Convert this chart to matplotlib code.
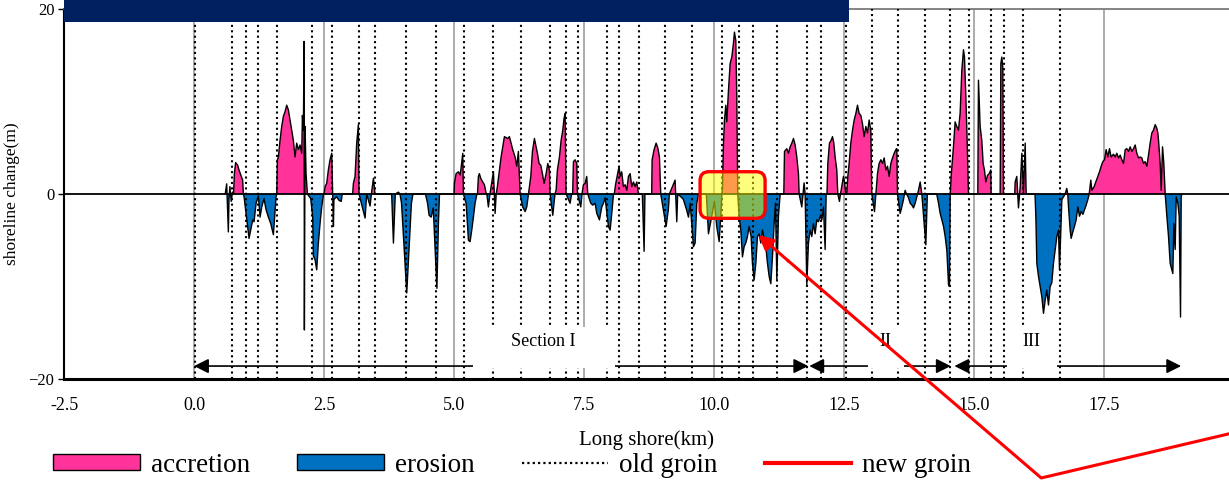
import numpy as np
import matplotlib.pyplot as plt
from matplotlib.patches import Rectangle, FancyBboxPatch, Patch
from matplotlib.lines import Line2D

plt.rcParams['font.family'] = ['Liberation Serif', 'DejaVu Serif']

# ----------------------------------
# data: shoreline change (km, m)
# ----------------------------------
profile_west = [
    (0.60, 0.0), (0.628, 1.1), (0.66, -4.1), (0.673, -0.5), (0.69, 0.8), (0.715, -0.8), (0.74, 0.2), (0.76, 0.0),
    (0.776, 2.2), (0.80, 3.4), (0.84, 3.1), (0.865, 2.6), (0.90, 2.05), (0.935, 1.5), (0.949, 0.0),
    (0.962, -0.3), (1.058, -4.8), (1.09, -3.9), (1.128, -2.8), (1.154, -3.0), (1.193, -1.0), (1.237, -0.2),
    (1.27, -2.5), (1.302, -1.4), (1.346, -0.5), (1.385, -1.7), (1.43, -2.5), (1.475, -3.2), (1.526, -4.4),
    (1.577, -0.3), (1.59, 0.0),
    (1.603, 3.7), (1.622, 4.0), (1.654, 5.8), (1.686, 7.3), (1.718, 8.4), (1.75, 8.9), (1.782, 9.6), (1.814, 9.1),
    (1.846, 8.0), (1.878, 6.9), (1.91, 5.8), (1.942, 4.0), (1.974, 5.5), (2.007, 4.8), (2.039, 5.3), (2.071, 4.4),
    (2.084, 8.5), (2.103, 6.9), (2.116, 16.5), (2.122, -14.7), (2.135, 7.3), (2.154, 2.2), (2.18, 0.0),
    (2.244, -0.5), (2.282, -2.5), (2.295, -6.7), (2.327, -7.1), (2.359, -8.2), (2.391, -5.3), (2.423, -3.2),
    (2.455, -1.4), (2.487, -0.1), (2.50, 0.0),
    (2.52, 0.8), (2.551, 1.15), (2.583, 2.6), (2.615, 3.7), (2.648, 4.4), (2.667, 0.0),
    (2.68, -3.5), (2.69, -0.6), (2.74, -0.3), (2.79, -0.7), (2.83, -0.8), (2.85, 0.0),
    (3.05, 0.0), (3.064, 1.15), (3.096, 1.9), (3.128, 5.5), (3.16, 7.5), (3.173, 0.0),
    (3.289, -2.6), (3.32, 0.0), (3.385, -1.3), (3.41, 0.0), (3.45, 1.7), (3.48, 0.0),
    (3.80, 0.0), (3.834, -5.3), (3.87, 0.0), (3.93, 0.2), (3.96, 0.0), (3.99, -1.0), (4.09, -10.7), (4.12, -7.5),
    (4.18, -1.0), (4.21, 0.0),
    (4.45, 0.0), (4.49, -1.0), (4.52, -2.3), (4.56, -2.5), (4.60, -1.5), (4.67, -10.2), (4.70, -3.0), (4.72, 0.0),
    (5.0, 0.0), (5.007, 1.15), (5.039, 2.2), (5.084, 2.4), (5.116, 2.05), (5.135, 2.8), (5.167, 4.4), (5.18, 0.0),
    (5.231, -1.0), (5.257, -3.2), (5.276, -5.0), (5.308, -5.15), (5.34, -3.9), (5.372, -2.5), (5.404, -1.0),
    (5.436, -0.1), (5.45, 0.0),
    (5.468, 1.9), (5.487, 2.2), (5.513, 1.7), (5.551, 1.3), (5.584, 1.0), (5.616, 0.1), (5.63, 0.0),
    (5.66, -1.4), (5.69, 0.0), (5.757, 2.4), (5.775, 0.0), (5.789, -2.1), (5.81, 0.0),
    (5.833, 0.8), (5.872, 2.6), (5.904, 4.0), (5.936, 5.1), (5.968, 6.2), (6.0, 6.1), (6.032, 6.0), (6.064, 6.2),
    (6.096, 5.5), (6.128, 4.8), (6.173, 4.0), (6.205, 3.0), (6.237, 4.6), (6.27, 0.0),
]

profile_middle = [
    (6.32, -1.4), (6.366, -1.9), (6.398, -1.4), (6.43, 0.0),
    (6.449, 0.8), (6.475, 1.9), (6.507, 4.6), (6.545, 6.0), (6.571, 5.3), (6.603, 4.4), (6.635, 3.3), (6.667, 3.1),
    (6.699, 2.2), (6.731, 1.15), (6.77, 2.2), (6.802, 3.3), (6.834, 2.6), (6.846, 0.0),
    (6.898, -2.3), (6.94, 0.0),
    (6.962, 0.4), (6.987, 2.6), (7.026, 4.0), (7.058, 5.8), (7.09, 6.9), (7.115, 8.2), (7.135, 8.7), (7.154, 0.0),
    (7.231, -1.0), (7.26, 0.0), (7.28, 0.0), (7.295, 3.5), (7.327, 3.7), (7.359, 3.3), (7.372, 0.0),
    (7.436, -1.4), (7.46, 0.0), (7.487, 1.0), (7.52, 1.15), (7.551, 1.9), (7.571, 0.0),
    (7.628, -1.0), (7.667, -1.2), (7.712, -1.0), (7.744, -2.1), (7.795, -2.8), (7.84, -1.4), (7.872, -1.0),
    (7.904, -0.4), (7.936, -1.9), (7.968, -3.5), (8.0, -3.9), (8.032, -2.1), (8.064, -0.1), (8.08, 0.0),
    (8.109, 1.15), (8.141, 2.05), (8.173, 3.0), (8.192, 1.9), (8.224, 2.4), (8.256, 0.8), (8.289, 1.0),
    (8.321, 0.4), (8.353, 1.9), (8.385, 2.2), (8.417, 0.8), (8.449, 1.3), (8.481, 0.8), (8.513, 1.3), (8.545, 0.0),
    (8.62, 0.0), (8.654, -6.2), (8.67, 0.0),
    (8.80, 0.0), (8.808, 3.7), (8.846, 4.8), (8.885, 5.5), (8.917, 5.0), (8.949, 4.0), (8.974, 0.0),
    (9.077, -3.5), (9.12, -1.7), (9.14, 0.0), (9.25, 1.5), (9.282, -3.0), (9.30, 0.0),
    (9.38, -0.4), (9.41, -0.6), (9.47, -1.7), (9.507, -2.5), (9.54, -1.0), (9.603, -5.7), (9.635, -5.3),
    (9.667, -1.0), (9.70, 0.0),
    (9.85, 0.0), (9.891, -4.3), (9.955, -2.4), (10.006, -0.8), (10.05, -3.5), (10.097, -5.15), (10.135, -1.7),
    (10.15, 0.0),
    (10.161, 0.8), (10.18, 5.5), (10.199, 8.0), (10.225, 9.6), (10.244, 7.8), (10.276, 11.2), (10.308, 14.1),
    (10.34, 14.8), (10.372, 16.3), (10.391, 17.5), (10.417, 16.6), (10.436, 10.5), (10.455, 0.0),
    (10.481, -2.4), (10.513, -3.9), (10.545, -6.8), (10.577, -5.7), (10.609, -5.3), (10.641, -4.6), (10.673, -3.5),
    (10.712, -4.6), (10.737, -7.5), (10.769, -9.3), (10.802, -7.5), (10.834, -4.6), (10.866, -4.3), (10.898, -5.3),
    (10.93, -3.9), (10.962, -4.8), (10.994, -5.7), (11.026, -7.5), (11.058, -8.9), (11.09, -9.7), (11.122, -6.8),
    (11.154, -3.2), (11.18, -1.0), (11.206, -9.3), (11.237, -2.4), (11.27, 0.0),
    (11.34, 0.0), (11.353, 4.6), (11.398, 4.9), (11.43, 4.4), (11.462, 5.1), (11.494, 5.5), (11.526, 6.0),
    (11.558, 5.3), (11.59, 4.0), (11.622, 2.2), (11.635, 0.0),
    (11.686, -1.4), (11.71, 0.0), (11.73, 1.2), (11.75, 0.0),
    (11.782, -9.8), (11.814, -5.3), (11.846, -3.9), (11.878, -4.6), (11.91, -3.2), (11.942, -4.3), (11.975, -2.8),
    (12.007, -3.0), (12.039, -2.4), (12.071, -2.8), (12.103, -1.4), (12.135, -6.0), (12.154, -0.1), (12.17, 0.0),
]

profile_east = [
    (12.186, 3.3), (12.218, 5.5), (12.25, 5.8), (12.276, 6.2), (12.302, 5.5), (12.327, 4.0), (12.359, 2.6),
    (12.378, 0.0), (12.41, -0.8), (12.43, 0.0), (12.487, 1.9), (12.51, 1.2), (12.53, 0.0),
    (12.55, 0.0), (12.571, 1.9), (12.596, 3.3), (12.628, 5.5), (12.661, 6.9), (12.693, 8.0), (12.725, 8.7),
    (12.757, 9.6), (12.789, 8.7), (12.821, 8.5), (12.853, 7.6), (12.885, 6.2), (12.917, 7.3), (12.949, 6.6),
    (12.981, 8.0), (13.013, 6.9), (13.032, 0.0),
    (13.084, -1.9), (13.11, 0.0),
    (13.141, 2.2), (13.173, 3.3), (13.206, 3.7), (13.238, 3.3), (13.27, 3.9), (13.302, 2.6), (13.334, 3.0),
    (13.366, 1.9), (13.398, 3.3), (13.43, 3.9), (13.462, 4.4), (13.494, 4.8), (13.513, 4.9), (13.526, 0.0),
    (13.577, -2.1), (13.609, -1.4), (13.641, -0.6), (13.673, 0.4), (13.70, 0.0), (13.737, -0.4), (13.77, -1.0),
    (13.802, -1.2), (13.834, -1.5), (13.866, -1.0), (13.898, -0.3), (13.93, 0.4), (13.962, 1.3), (13.994, 0.0),
    (14.071, -5.5), (14.10, 0.0),
    (14.28, 0.0), (14.315, -1.0), (14.347, -2.1), (14.379, -2.8), (14.411, -3.5), (14.443, -4.6), (14.475, -6.1),
    (14.507, -9.8), (14.525, -10.0), (14.54, 0.0),
    (14.557, 1.9), (14.602, 5.1), (14.634, 7.8), (14.666, 7.3), (14.698, 6.9), (14.73, 8.7), (14.763, 13.4),
    (14.795, 15.6), (14.814, 14.8), (14.84, 10.6), (14.865, 5.8), (14.891, 0.0),
    (15.07, 0.0), (15.083, 12.3), (15.115, 7.3), (15.147, 5.8), (15.173, 3.3), (15.198, 2.6), (15.224, 1.3),
    (15.256, 2.0), (15.288, 2.2), (15.32, 2.6), (15.327, 0.0),
    (15.50, 0.0), (15.513, 14.1), (15.532, 14.8), (15.551, 13.7), (15.564, 0.0),
    (15.78, 0.0), (15.788, 1.3), (15.82, 1.9), (15.852, -1.5), (15.885, 0.8), (15.917, 4.4), (15.949, 0.1),
    (15.981, 5.5), (16.0, 0.0),
    (16.17, 0.0), (16.186, -2.4), (16.205, -7.5), (16.237, -8.9), (16.269, -10.0), (16.301, -11.1), (16.333, -12.9),
    (16.365, -11.5), (16.397, -10.4), (16.429, -12.0), (16.461, -10.0), (16.493, -9.6), (16.525, -7.5),
    (16.558, -6.0), (16.59, -4.6), (16.622, -3.9), (16.641, -8.2), (16.667, -3.9), (16.686, -0.6), (16.718, -0.3),
    (16.75, 0.0), (16.78, 0.6), (16.80, 0.0),
    (16.814, -1.4), (16.846, -3.9), (16.865, -4.8), (16.897, -4.1), (16.929, -3.5), (16.961, -2.8), (16.994, -1.4),
    (17.026, -2.4), (17.058, -1.9), (17.09, -2.2), (17.122, -1.7), (17.154, -1.2), (17.186, -0.6), (17.212, 0.0),
    (17.243, 1.5), (17.263, 0.4), (17.307, 0.8), (17.339, 1.3), (17.378, 1.9), (17.41, 2.4), (17.442, 3.0),
    (17.474, 3.5), (17.506, 3.7), (17.538, 4.8), (17.57, 4.0), (17.602, 4.9), (17.634, 4.0), (17.679, 4.3),
    (17.712, 4.0), (17.743, 4.4), (17.775, 3.9), (17.808, 4.2), (17.84, 3.7), (17.872, 3.3), (17.904, 4.8),
    (17.936, 4.9), (17.968, 4.6), (18.0, 5.1), (18.032, 4.6), (18.064, 4.9), (18.096, 5.3), (18.128, 4.4),
    (18.16, 3.9), (18.192, 4.0), (18.224, 3.9), (18.256, 3.3), (18.288, 3.5), (18.32, 3.0), (18.352, 4.2),
    (18.384, 5.5), (18.416, 6.6), (18.448, 6.9), (18.481, 7.5), (18.513, 7.1), (18.532, 6.6), (18.545, 5.8),
    (18.577, 3.3), (18.596, 0.4), (18.622, 5.1), (18.647, 3.3), (18.673, 0.0),
    (18.686, -1.0), (18.705, -2.4), (18.737, -4.6), (18.769, -7.5), (18.801, -8.2), (18.82, -8.6), (18.84, -3.2),
    (18.865, -6.0), (18.885, -0.3), (18.917, -1.0), (18.942, -2.4), (18.968, -13.3), (18.981, -0.3), (18.994, 0.0),
]

old_groins_km = [0.02, 0.725, 1.0, 1.237, 1.59, 2.275, 2.66, 3.18, 3.48, 4.07, 4.65, 5.19, 5.74, 6.28,
                 6.85, 7.15, 7.39, 7.95, 8.17, 8.55, 9.06, 9.58, 10.15, 10.48, 10.74, 11.21, 11.79, 12.06,
                 12.54, 13.04, 13.54, 14.05, 14.54, 14.90, 15.33, 15.57, 15.93, 16.65]

section_names = ['Section I', 'II', 'III']
section_start_km = [0.0, 11.83, 14.62]
section_end_km = [11.81, 14.55, 18.98]
section_label_km = [6.71, 13.3, 16.1]
section_box_km = [(5.36, 8.10), (12.95, 13.65), (15.64, 16.60)]

legend_labels = ['accretion', 'erosion', 'old groin', 'new groin']

PINK = '#FF3399'
BLUE = '#0070C0'

pts = np.array(profile_west + profile_middle + profile_east)
dist = pts[:, 0]
change = pts[:, 1]

# ----------------------------------
# figure
# ----------------------------------
W, H = 1229, 482
fig = plt.figure(figsize=(W / 100, H / 100), dpi=100)
ax = fig.add_axes([64 / W, 1 - 379 / H, (W - 64) / W, 370 / H])

ax.set_xlim(-2.5, 19.9)
ax.set_ylim(-20, 20)

ax.fill_between(dist, change, 0, where=change >= 0, interpolate=True, color=PINK, lw=0, zorder=1)
ax.fill_between(dist, change, 0, where=change <= 0, interpolate=True, color=BLUE, lw=0, zorder=1)
ax.plot(dist, change, color='black', lw=1.0, zorder=3)
ax.axhline(0, color='black', lw=1.3, zorder=3)

for g in old_groins_km:
    ax.axvline(g, color='black', ls=(0, (1.0, 1.6)), lw=1.5, zorder=4)

# sections: arrows, white boxes, labels
for s, e in zip(section_start_km, section_end_km):
    ax.annotate('', xy=(e, -18.6), xytext=(s, -18.6),
                arrowprops=dict(arrowstyle='<|-|>', color='black', lw=1.2, mutation_scale=22,
                                shrinkA=0, shrinkB=0), zorder=4.5)
for (b0, b1), name, xl in zip(section_box_km, section_names, section_label_km):
    ax.add_patch(Rectangle((b0, -18.85), b1 - b0, 4.45, facecolor='white', edgecolor='none', zorder=5))
    ax.text(xl, -16.0, name, ha='center', va='center', fontsize=13, zorder=6)

# axes styling
ax.set_xticks(np.arange(-2.5, 19.0, 2.5))
ax.set_xticklabels([f'{v:.1f}' for v in np.arange(-2.5, 19.0, 2.5)])
ax.set_yticks([-20, 0, 20])
ax.xaxis.grid(True, color='#a6a6a6', lw=1.3)
ax.set_axisbelow(True)
ax.tick_params(axis='x', length=0, labelsize=13, pad=13)
ax.tick_params(axis='y', length=4, width=1, direction='out', labelsize=12, pad=3)
ax.spines['left'].set_linewidth(1.5)
ax.spines['bottom'].set_linewidth(2.2)
ax.spines['top'].set_color('#707070')
ax.spines['top'].set_linewidth(1.2)
ax.spines['right'].set_visible(False)

ax.set_xlabel('Long shore(km)', fontsize=15, labelpad=12)
ax.set_ylabel('shoreline change(m)', fontsize=12.5, labelpad=6)

# legend
handles = [Patch(facecolor=PINK, edgecolor='black', lw=1),
           Patch(facecolor=BLUE, edgecolor='black', lw=1),
           Line2D([], [], color='black', ls=(0, (1.0, 1.4)), lw=1.6),
           Line2D([], [], color='red', lw=3)]
fig.legend(handles, legend_labels, loc='center left', bbox_to_anchor=(53 / W, 1 - 465 / H), ncol=4,
           frameon=False, fontsize=19.5, handlelength=3.2, handleheight=0.5, handletextpad=0.4,
           columnspacing=1.75, borderpad=0, borderaxespad=0)

# highlight box and red pointer
ax.add_patch(FancyBboxPatch((9.73, -2.63), 1.25, 5.04, boxstyle='round,pad=0,rounding_size=0.17',
                            mutation_aspect=52 / 9.25, facecolor=(1, 1, 0, 0.5), edgecolor='red',
                            lw=2.4, zorder=7))
ax.plot([20.6, 16.29, 11.43], [-25.0, -30.7, -7.25], color='red', lw=2.2, clip_on=False, zorder=8)
ax.annotate('', xy=(10.85, -4.43), xytext=(11.43, -7.25),
            arrowprops=dict(arrowstyle='-|>', color='red', lw=2.2, mutation_scale=22,
                            shrinkA=0, shrinkB=0), annotation_clip=False, zorder=8)

# slide title banner (cropped)
ax.add_patch(Rectangle((-2.5, 18.6), 15.1, 2.6, facecolor='#002060', edgecolor='none',
                       clip_on=False, zorder=10))

fig.savefig('out.png', dpi=100)
